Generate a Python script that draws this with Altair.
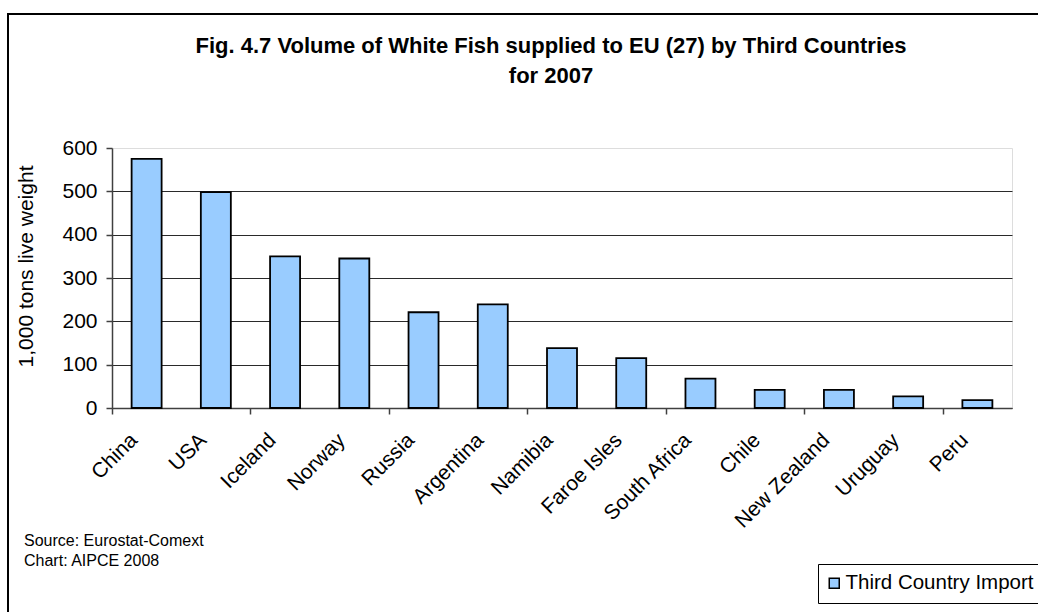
import altair as alt
import pandas as pd

# White fish supplied to EU (27) by third countries, 2007 (1,000 tons live weight)
countries = ["China", "USA", "Iceland", "Norway", "Russia", "Argentina", "Namibia",
             "Faroe Isles", "South Africa", "Chile", "New Zealand", "Uruguay", "Peru"]
volumes = [575, 498, 350, 345, 221, 239, 138, 115, 68, 42, 42, 27, 18]
series_name = "Third Country Import"
y_ticks = [0, 100, 200, 300, 400, 500, 600]
title_lines = ["Fig. 4.7 Volume of White Fish supplied to EU (27) by Third Countries",
               "for 2007"]
notes = ["Source: Eurostat-Comext", "Chart: AIPCE 2008"]

# every other category boundary carries a tick mark
tick_categories = countries[::2]

df = pd.DataFrame({"country": countries, "volume": volumes, "series": series_name})

FONT = "Liberation Sans"
W, H = 900, 260
step = W / len(countries)

tick_test = "indexof(" + str(tick_categories) + ", datum.value) >= 0"

bars = alt.Chart(df).mark_bar(stroke="black", strokeWidth=1.8).encode(
    x=alt.X(
        "country:N",
        sort=countries,
        scale=alt.Scale(paddingInner=0.5667, paddingOuter=0.2833),
        axis=alt.Axis(
            title=None,
            labelAngle=-45,
            labelAlign="right",
            labelBaseline="top",
            labelFont=FONT,
            labelFontSize=21,
            labelColor="black",
            labelPadding=15,
            labelOffset=14,
            tickSize=6,
            tickOffset=-step / 2,
            tickColor="#404040",
            tickWidth=1.5,
            tickOpacity={"condition": {"test": tick_test, "value": 1}, "value": 0},
            domainColor="#404040",
            domainWidth=1.5,
        ),
    ),
    y=alt.Y(
        "volume:Q",
        scale=alt.Scale(domain=[0, 600], nice=False),
        axis=alt.Axis(
            values=y_ticks,
            title="1,000 tons live weight",
            titleFont=FONT,
            titleFontSize=21,
            titleFontWeight="normal",
            titleColor="black",
            titleAngle=-90,
            titleAlign="center",
            titleBaseline="middle",
            titleX=-86,
            titleY=118,
            labelFont=FONT,
            labelFontSize=21,
            labelColor="black",
            labelPadding=9,
            tickSize=6,
            tickColor="#404040",
            tickWidth=1.5,
            domainColor="#404040",
            domainWidth=1.5,
            grid=True,
            gridColor="#2a2a2a",
            gridWidth=1,
            gridOpacity={"condition": {"test": "datum.value == 600", "value": 0}, "value": 1},
        ),
    ),
    fill=alt.Fill(
        "series:N",
        scale=alt.Scale(domain=[series_name], range=["#99CCFF"]),
        legend=alt.Legend(
            title=None,
            orient="none",
            legendX=706,
            legendY=416,
            direction="vertical",
            strokeColor="black",
            fillColor="white",
            padding=9,
            symbolType="square",
            symbolSize=100,
            symbolOffset=-3,
            symbolStrokeColor="black",
            symbolStrokeWidth=1.5,
            symbolFillColor="#99CCFF",
            labelFont=FONT,
            labelFontSize=20.5,
            labelColor="black",
            labelOffset=1,
            labelLimit=600,
        ),
    ),
)

# outer chart frame
frame = alt.Chart(alt.Data(values=[{}])).mark_rect(
    fillOpacity=0, stroke="black", strokeWidth=2
).encode(
    x=alt.value(-104), x2=alt.value(1100), y=alt.value(-134), y2=alt.value(700)
)

note_layers = [
    alt.Chart(alt.Data(values=[{"t": txt}])).mark_text(
        align="left", baseline="alphabetic", font=FONT, fontSize=16, color="black"
    ).encode(text="t:N", x=alt.value(-88), y=alt.value(398 + 20 * i))
    for i, txt in enumerate(notes)
]

chart = alt.layer(frame, bars, *note_layers).properties(
    width=W,
    height=H,
    padding={"left": 112, "top": 148, "right": 26, "bottom": 204},
    autosize=alt.AutoSizeParams(type="none"),
    title=alt.TitleParams(
        text=title_lines,
        font=FONT,
        fontSize=22,
        fontWeight="bold",
        color="black",
        anchor="middle",
        lineHeight=30,
        dx=-11,
        dy=79,
    ),
).configure_view(
    stroke="#9a9a9a", strokeWidth=2
).configure(background="white")

chart.save("out.html", embed_options={"renderer": "svg", "actions": False})
